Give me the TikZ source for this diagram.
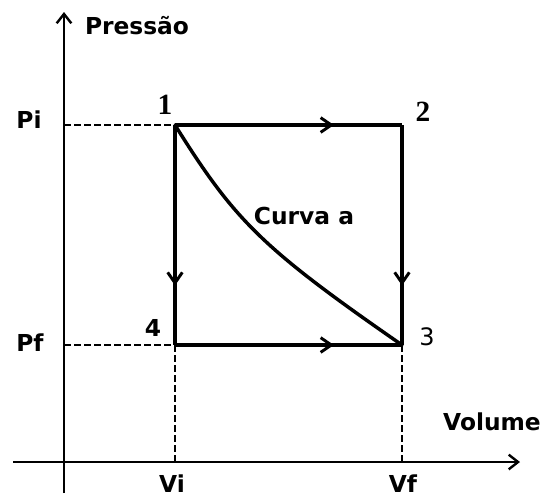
\documentclass[tikz,border=0pt]{standalone}
\usepackage{fontspec}
\setmainfont{DejaVu Sans}
\newfontfamily\numserif{Liberation Serif}
\usetikzlibrary{arrows.meta,decorations.markings}
\begin{document}
\begin{tikzpicture}[x=0.75pt,y=-0.75pt,
  lbl/.style={inner sep=0pt,font=\fontsize{17.5}{20}\selectfont\bfseries},
  slbl/.style={inner sep=0pt,font=\numserif\fontsize{22}{24}\selectfont\bfseries},
  axis/.style={line width=1.7pt,-{Straight Barb[length=7pt,width=11pt,line width=1.8pt]}},
  guide/.style={line width=1.4pt,dash pattern=on 5pt off 2.5pt},
  path/.style={line width=2.6pt},
  midarrow/.style={postaction={decorate},decoration={markings,
     mark=at position #1 with {\arrow{Straight Barb[length=8pt,width=11pt,line width=2.2pt]}}}}]
\useasboundingbox (0,0) rectangle (543,497);
% coordinates
\coordinate (c1) at (175,125);
\coordinate (c2) at (402,125);
\coordinate (c3) at (402,345);
\coordinate (c4) at (175,345);
\coordinate (yb) at (64,493);
\coordinate (yt) at (64,12);
\coordinate (xl) at (13,462);
\coordinate (xr) at (520,462);
\coordinate (pi) at (64,125);
\coordinate (pf) at (64,345);
\coordinate (vi) at (175,462);
\coordinate (vf) at (402,462);
% axes
\draw[axis] (yb) -- (yt);
\draw[axis] (xl) -- (xr);
% guides
\draw[guide] (pi) -- (c1);
\draw[guide] (pf) -- (c4);
\draw[guide] (c4) -- (vi);
\draw[guide] (c3) -- (vf);
% cycle
\draw[path,midarrow=0.70] (c1) -- (c2);
\draw[path,midarrow=0.73] (c2) -- (c3);
\draw[path,midarrow=0.73] (c1) -- (c4);
\draw[path,midarrow=0.70] (c4) -- (c3);
\draw[path,line cap=round] (c1) .. controls (235,221) and (262,248) .. (c3);
% labels
\node[lbl] (tp) at (137,26) {Pressão};
\node[lbl] (tv) at (492,422) {Volume};
\node[lbl] (tpi) at (29,120) {Pi};
\node[lbl] (tpf) at (30,343) {Pf};
\node[lbl] (tvi) at (172,484) {Vi};
\node[lbl] (tvf) at (403,484) {Vf};
\node[lbl] (tc) at (304,216) {Curva a};
\node[slbl] (n1) at (165,105) {1};
\node[slbl] (n2) at (423,112) {2};
\node[inner sep=0pt,font=\fontsize{18}{20}\selectfont] (n3) at (427,337) {3};
\node[lbl] (n4) at (153,328) {4};
\end{tikzpicture}
\end{document}
